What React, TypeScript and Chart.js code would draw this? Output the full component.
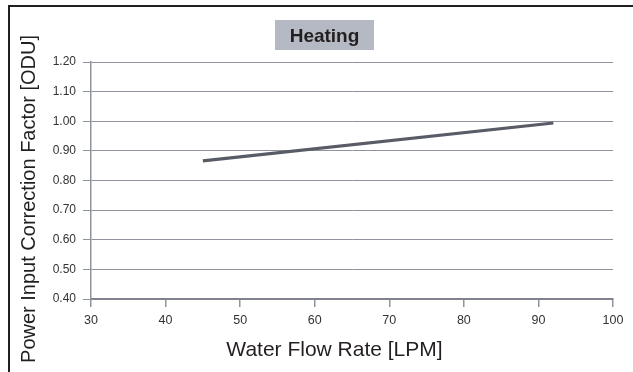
import React, { useEffect, useRef } from "react";
import { Chart, registerables } from "chart.js";

Chart.register(...registerables);

// ---- data ----
const flowRateLPM = [45, 92];
const powerInputFactor = [0.866, 0.994];
const xTicks = [30, 40, 50, 60, 70, 80, 90, 100];
const yTicks = [0.4, 0.5, 0.6, 0.7, 0.8, 0.9, 1.0, 1.1, 1.2];
const chartTitle = "Heating";
const xTitle = "Water Flow Rate [LPM]";
const yTitle = "Power Input Correction Factor [ODU]";

const FONT = "'Liberation Sans', Arial, Helvetica, sans-serif";

const titlesPlugin = {
  id: "customTitles",
  afterDraw(chart: any) {
    const ctx = chart.ctx as CanvasRenderingContext2D;
    const area = chart.chartArea;
    ctx.save();
    // heading box
    const boxW = 99;
    const boxH = 30;
    const boxCx = 324.5;
    ctx.fillStyle = "#b4b9c3";
    ctx.fillRect(boxCx - boxW / 2, 20, boxW, boxH);
    ctx.fillStyle = "#231f20";
    ctx.font = `bold 19px ${FONT}`;
    ctx.textAlign = "center";
    ctx.textBaseline = "alphabetic";
    ctx.fillText(chartTitle, boxCx, 42);

    // x title
    ctx.font = `21px ${FONT}`;
    ctx.fillStyle = "#231f20";
    ctx.fillText(xTitle, (area.left + area.right) / 2 - 17.5, 356);

    // y title
    ctx.translate(35, 199);
    ctx.rotate(-Math.PI / 2);
    ctx.font = `20px ${FONT}`;
    ctx.fillText(yTitle, 0, 0);
    ctx.restore();
  },
};

export default function App() {
  const canvasRef = useRef<HTMLCanvasElement | null>(null);

  useEffect(() => {
    const canvas = canvasRef.current;
    if (!canvas) return;
    const chart = new Chart(canvas, {
      type: "line",
      data: {
        datasets: [
          {
            data: flowRateLPM.map((x, i) => ({ x, y: powerInputFactor[i] })),
            borderColor: "#595b66",
            borderWidth: 3.2,
            pointRadius: 0,
            fill: false,
            tension: 0,
          },
        ],
      },
      options: {
        responsive: false,
        animation: false,
        events: [],
        layout: { padding: { top: 62, right: 20, left: 0, bottom: 0 } },
        plugins: {
          legend: { display: false },
          title: { display: false },
          tooltip: { enabled: false },
        },
        scales: {
          x: {
            type: "linear",
            min: xTicks[0],
            max: xTicks[xTicks.length - 1],
            afterFit(scale: any) {
              scale.height = 73;
            },
            afterBuildTicks(scale: any) {
              scale.ticks = xTicks.map((v) => ({ value: v }));
            },
            grid: {
              drawOnChartArea: false,
              drawTicks: true,
              tickLength: 8,
              color: "#8f939c",
              lineWidth: 1.5,
            },
            border: { display: true, color: "#80838d", width: 2 },
            ticks: {
              padding: 6,
              color: "#333333",
              font: { family: FONT, size: 12.5 },
              maxRotation: 0,
              callback: (v: any) => String(v),
            },
          },
          y: {
            type: "linear",
            min: yTicks[0],
            max: yTicks[yTicks.length - 1],
            afterFit(scale: any) {
              scale.width = 91;
            },
            afterBuildTicks(scale: any) {
              scale.ticks = yTicks.map((v) => ({ value: v }));
            },
            grid: {
              drawOnChartArea: true,
              drawTicks: true,
              tickLength: 8,
              color: "#8f939c",
              lineWidth: 1,
            },
            border: { display: true, color: "#8f939c", width: 1.5 },
            ticks: {
              padding: 7,
              color: "#333333",
              font: { family: FONT, size: 12 },
              callback: (v: any) => Number(v).toFixed(2),
            },
          },
        },
      },
      plugins: [titlesPlugin],
    } as any);
    return () => chart.destroy();
  }, []);

  return (
    <div
      style={{
        position: "fixed",
        left: 0,
        top: 0,
        width: 633,
        height: 372,
        overflow: "hidden",
        background: "#ffffff",
      }}
    >
      <div
        style={{
          position: "absolute",
          left: 8,
          top: 5,
          width: 700,
          height: 420,
          borderTop: "2px solid #231f20",
          borderLeft: "2px solid #231f20",
        }}
      />
      <canvas
        ref={canvasRef}
        width={633}
        height={372}
        style={{ position: "absolute", left: 0, top: 0, width: 633, height: 372 }}
      />
    </div>
  );
}
